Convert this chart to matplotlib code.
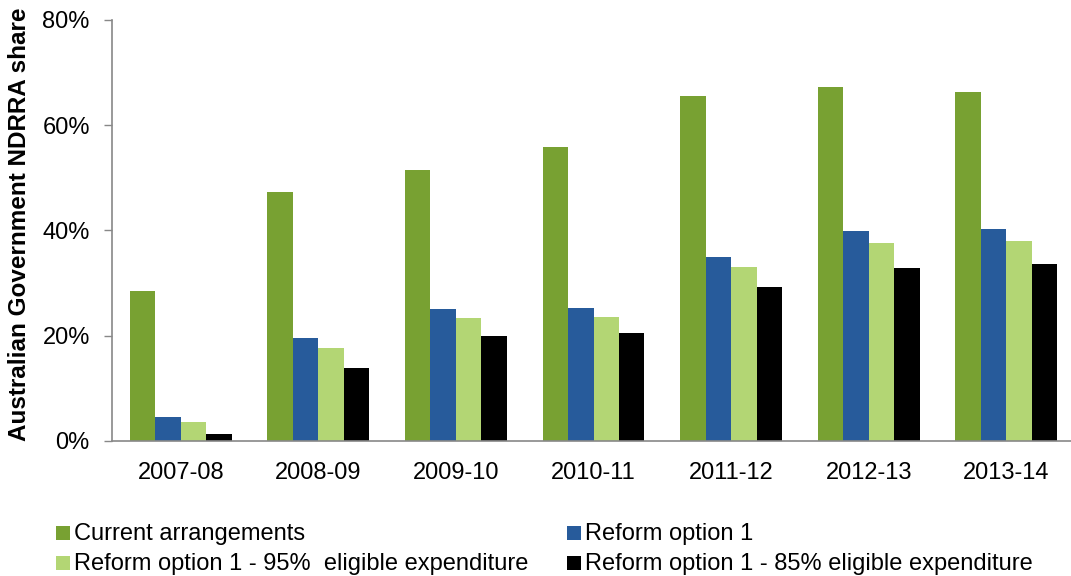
import matplotlib
matplotlib.use("Agg")
import matplotlib.pyplot as plt
from matplotlib.patches import Rectangle
import numpy as np

categories = ["2007-08", "2008-09", "2009-10", "2010-11", "2011-12", "2012-13", "2013-14"]
current = [28.4, 47.2, 51.4, 55.8, 65.6, 67.3, 66.4]
reform1 = [4.5, 19.5, 25.1, 25.3, 34.9, 39.8, 40.2]
reform95 = [3.5, 17.6, 23.3, 23.5, 33.0, 37.5, 37.9]
reform85 = [1.3, 13.8, 20.0, 20.4, 29.2, 32.8, 33.6]

series_names = ["Current arrangements", "Reform option 1",
                "Reform option 1 - 95%  eligible expenditure",
                "Reform option 1 - 85% eligible expenditure"]
colors = ["#78A132", "#275B9B", "#B3D674", "#000000"]

plt.rcParams['font.family'] = ['Liberation Sans', 'DejaVu Sans']

fig = plt.figure(figsize=(10.71, 5.76), dpi=100)
W, H = 1071, 576
ax = fig.add_axes([112 / W, 1 - 440.7 / H, (1075 - 112) / W, (440.7 - 20) / H])

x = np.arange(len(categories))
bw = 0.185
data = [current, reform1, reform95, reform85]
for i, (vals, c, name) in enumerate(zip(data, colors, series_names)):
    ax.bar(x + (i - 1.5) * bw, vals, width=bw, color=c, label=name,
           edgecolor='none')

fs = 17
ax.set_xlim(-0.5, 6.5)
ax.set_ylim(0, 80)
ax.set_yticks([0, 20, 40, 60, 80])
ax.set_yticklabels(["0%", "20%", "40%", "60%", "80%"])
ax.set_xticks(x)
ax.set_xticklabels(categories)
ax.tick_params(axis='x', length=0, pad=15, labelsize=fs)
ax.tick_params(axis='y', length=6, width=1, color='#888888', labelsize=fs, pad=10)
for s in ['top', 'right']:
    ax.spines[s].set_visible(False)
for s in ['left', 'bottom']:
    ax.spines[s].set_color('#888888')
    ax.spines[s].set_linewidth(1.2)

ax.set_ylabel("Australian Government NDRRA share", fontsize=17.5, fontweight='bold')
ax.yaxis.set_label_coords(-(112 - 20) / (1075 - 112), 0.515)
ax.yaxis.label.set_verticalalignment('center')

# legend laid out row-wise as in the reference
leg_pos = [(56, 540), (567, 540), (56, 570), (567, 570)]  # (square left x, text baseline y)
for (lx, ly), name, c in zip(leg_pos, series_names, colors):
    fig.add_artist(Rectangle((lx / W, 1 - ly / H), 14 / W, 14 / H,
                             transform=fig.transFigure, color=c, lw=0))
    fig.text((lx + 18) / W, 1 - ly / H, name, fontsize=fs, va='baseline', ha='left')

fig.savefig("out.png", dpi=100)
